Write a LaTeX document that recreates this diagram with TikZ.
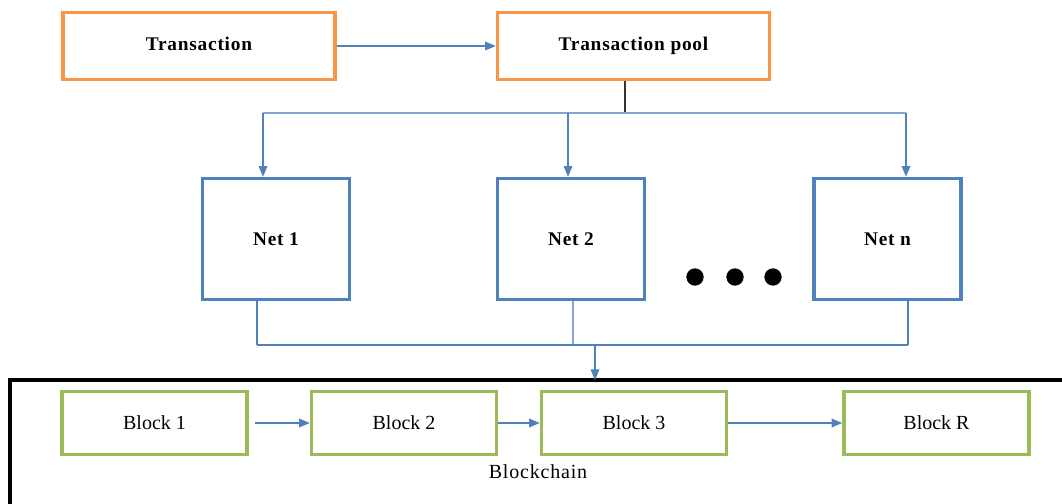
\documentclass[tikz,border=0pt]{standalone}
\usepackage{fontspec}
\setmainfont{Liberation Serif}
\newfontfamily\wideserif[LetterSpace=4]{Liberation Serif}
\usetikzlibrary{arrows.meta}
\definecolor{orangeb}{HTML}{F79646}
\definecolor{blueb}{HTML}{4F81BD}
\definecolor{greenb}{HTML}{9BBB59}
\tikzset{
  tbox/.style={draw=orangeb, line width=2.6pt, minimum width=272*0.75pt, minimum height=67*0.75pt, font=\fontsize{14.5}{17}\wideserif\bfseries, inner sep=0pt, text height=10pt, text depth=3pt},
  netbox/.style={draw=blueb, line width=2.6pt, minimum width=147*0.75pt, minimum height=121*0.75pt, font=\fontsize{14.5}{17}\wideserif\bfseries, inner sep=0pt, text height=10pt, text depth=0pt},
  blockbox/.style={draw=greenb, line width=2.6pt, minimum width=185*0.75pt, minimum height=63*0.75pt, font=\fontsize{15}{17}\selectfont, inner sep=0pt},
  conn/.style={draw=blueb, line width=0.9pt},
  arr/.style={conn, -{Triangle[length=8pt,width=6.5pt]}},
  dot/.style={circle, fill=black, minimum size=13pt, inner sep=0pt},
}
\begin{document}
\begin{tikzpicture}[x=0.75pt, y=-0.75pt]
\useasboundingbox (0,0) rectangle (1062,503);
% top boxes
\node[tbox] (tx) at (199,46) {Transaction};
\node[tbox] (pool) at (633.5,46) {Transaction pool};
\draw[arr] (tx.east) -- (pool.west);
% distribution
\coordinate (pj) at (625,113);
\draw[line width=0.8pt, draw=black!80] (pool.south -| pj) -- (pj);
\coordinate (jl) at (263,113);
\coordinate (jm) at (568,113);
\coordinate (jr) at (906,113);
\draw[conn, draw=blueb!70] (jl) -- (jr);
% nets
\node[netbox] (n1) at (276,239) {Net 1};
\node[netbox] (n2) at (571,239) {Net 2};
\node[netbox] (nn) at (887.5,239) {Net n};
\draw[arr] (jl) -- (jl |- n1.north);
\draw[arr] (jm) -- (jm |- n2.north);
\draw[arr] (jr) -- (jr |- nn.north);
\node[dot] (d1) at (695,277) {};
\node[dot] (d2) at (735,277) {};
\node[dot] (d3) at (773,277) {};
% gathering
\coordinate (bl) at (257,345);
\coordinate (bm) at (573,345);
\coordinate (br) at (908,345);
\coordinate (bj) at (595,345);
\draw[conn] (n1.south -| bl) -- (bl);
\draw[conn, draw=blueb!70] (n2.south -| bm) -- (bm);
\draw[conn] (nn.south -| br) -- (br);
\draw[conn] (bl) -- (br);
% blockchain frame
\coordinate (fl) at (10,510);
\coordinate (ftl) at (10,380);
\coordinate (fr) at (1070,380);
\draw[line width=2.6pt] (fl) -- (ftl) -- (fr);
\draw[arr] (bj) -- (bj |- ftl);
% blocks
\node[blockbox] (b1) at (154.5,423) {Block 1};
\node[blockbox] (b2) at (404,423) {Block 2};
\node[blockbox] (b3) at (634,423) {Block 3};
\node[blockbox] (bR) at (936.5,423) {Block R};
\draw[arr, shorten <=5pt] (b1.east) -- (b2.west);
\draw[arr] (b2.east) -- (b3.west);
\draw[arr] (b3.east) -- (bR.west);
\node[font=\fontsize{15}{17}\wideserif] (bc) at (538,472) {Blockchain};
\end{tikzpicture}
\end{document}
